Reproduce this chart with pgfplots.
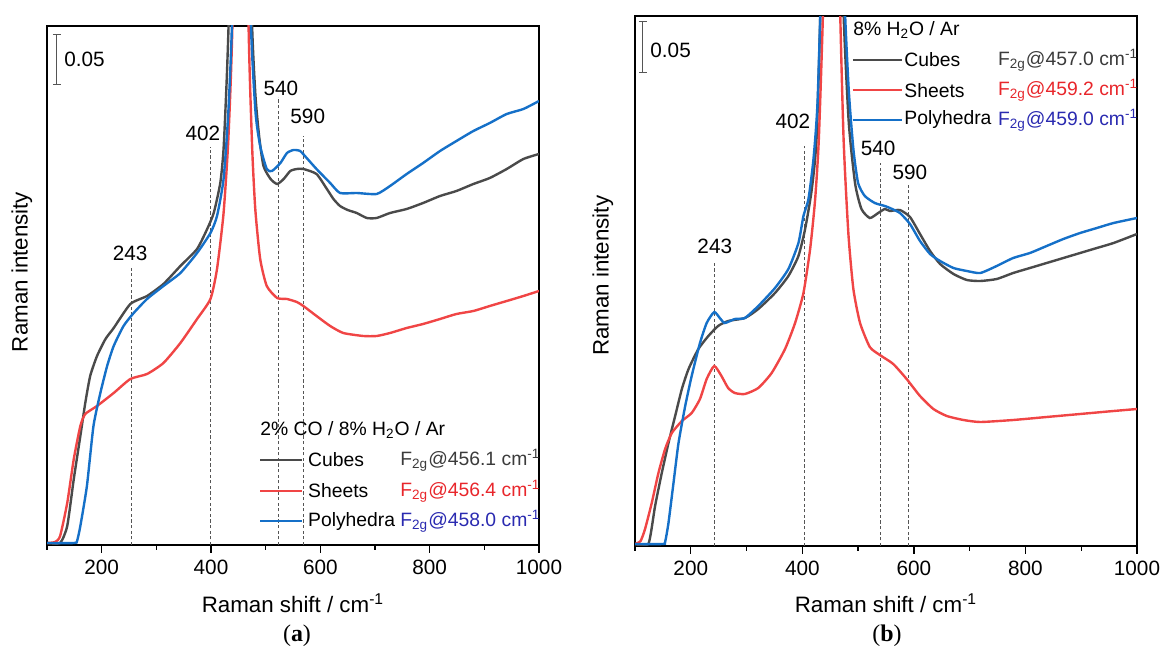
\documentclass[border=0pt]{standalone}
\usepackage{pgfplots}
\pgfplotsset{compat=1.18}
\usepackage{fontspec}
\setmainfont{Liberation Sans}
\newfontfamily\capfont{Liberation Serif}
\usetikzlibrary{arrows.meta}

\definecolor{cgray}{HTML}{4A4A4A}
\definecolor{cred}{HTML}{F04545}
\definecolor{cblue}{HTML}{1570C8}
\definecolor{tred}{HTML}{E8262B}
\definecolor{tblue}{HTML}{2A2AB0}
\definecolor{dashc}{HTML}{555555}

\newcommand{\tickfont}{\fontsize{10.4}{12}\selectfont}
\newcommand{\labfont}{\fontsize{11.2}{13}\selectfont}
\newcommand{\legfont}{\fontsize{9.7}{11.5}\selectfont}
\newcommand{\Fg}[1]{F\textsubscript{2g}@#1 cm\textsuperscript{-1}}

\tikzset{
  vdash/.style={dashc, line width=0.5bp, dash pattern=on 1.6bp off 1.2bp},
  pk/.style={font=\tickfont, inner sep=0pt},
}
\pgfplotsset{
  ramanax/.style={
    scale only axis,
    xmin=100, xmax=1000, ymin=0,
    xtick={200,400,...,1000},
    minor xtick={100,300,...,900},
    ytick=\empty,
    tick align=outside, tick pos=left,
    major tick length=4bp, minor tick length=2.5bp,
    every tick/.style={black, line width=0.7bp},
    axis line style={line width=0.9bp},
    ticklabel style={font=\tickfont},
    /pgf/number format/assume math mode=true,
    /pgf/number format/1000 sep={},
    xlabel={Raman shift / cm\textsuperscript{-1}},
    ylabel={Raman intensity},
    label style={font=\labfont},
    clip=true,
  },
  curve/.style={#1, line width=1.2bp, smooth, tension=0.35},
}

\begin{document}
\begin{tikzpicture}
\useasboundingbox (0,0) rectangle (581bp,326.5bp);

% ---------------- (a) ----------------
\begin{axis}[ramanax, at={(23.5bp,54bp)}, anchor=south west,
  width=246bp, height=259.5bp, ymax=519,
  xlabel style={at={(axis description cs:0.5,-0.112)}, anchor=center},
  ylabel style={at={(axis description cs:-0.051,0.526)}, anchor=center}]
\draw[vdash] (axis cs:254,0) -- (axis cs:254,277);
\draw[vdash] (axis cs:400,0) -- (axis cs:400,398);
\draw[vdash] (axis cs:524,0) -- (axis cs:524,448);
\draw[vdash] (axis cs:570,0) -- (axis cs:570,409);
\node[pk] at (axis cs:252,292) {243};
\node[pk] at (axis cs:385,412) {402};
\node[pk] at (axis cs:528,457) {540};
\node[pk] at (axis cs:577,429) {590};

\addplot[curve=cgray] coordinates {
(100,2) (124,2) (137,19) (149,66) (161,109) (170,142) (179,169) (191.5,189)
(207,206) (222,217) (252.5,241) (283,249) (313,261) (344,279) (374.5,296)
(393,316) (405,332) (417,362) (423,396) (429,469) (434,560) (445,900)
(456,1400) (466,900) (474,545) (481,452) (488,409) (496,379) (509,366)
(521,361) (533,366) (545,374) (557,376) (569,376) (593,371) (612,356)
(624,346) (636,339) (650,335) (666.5,332) (685,327) (703,327) (727.5,332) (758,336) (788,342)
(819,349) (849,354) (880,361) (910,367) (941,376) (971.5,386) (1000,391)
};
\addplot[curve=cred] coordinates {
(100,2) (115,3) (124,9) (137,42) (149,86) (161,119) (170,131) (191.5,139)
(222,152) (252.5,166) (283,171) (313,182) (344,202) (374.5,226) (399,246)
(411,276) (423,332) (432,409) (440,545) (448,1000) (456,1400) (462,1000)
(468,545) (475,402) (481,336) (490,286) (502,259) (521,247) (539,246)
(557,243) (569,239) (593,229) (618,219) (642,212) (678.6,209) (703,209)
(727.5,212) (758,217) (788,221) (819,226) (849,231) (880,234) (910,239)
(941,244) (971.5,249) (1000,254)
};
\addplot[curve=cblue] coordinates {
(100,2) (150,2) (155,4) (161,19) (173,59) (185,119) (197.6,152) (210,179)
(222,199) (240,219) (258.6,232) (283,246) (313,259) (344,272) (374.5,292)
(399,312) (411,329) (423,366) (432,436) (440,560) (448,1000) (456,1400)
(464,1000) (471,560) (481,436) (490,399) (502,376) (511.6,374) (527,382)
(539,392) (551,395) (563,394) (575,387) (593,376) (618,362) (636,352)
(666.5,352) (703,351) (727.5,359) (758,371) (788,382) (819,394) (849,404)
(880,414) (910,422) (941,431) (971.5,436) (1000,444)
};

% scale bar
\draw[dashc, line width=0.6bp, {Bar[width=4bp]}-{Bar[width=4bp]}]
  (axis cs:118,460) -- (axis cs:118,511);
\node[pk, anchor=west] at (axis cs:131,486) {0.05};

% legend
\node[anchor=west, inner sep=0pt, font=\legfont] at (rel axis cs:0.433,0.2216)
  {2\% CO / 8\% H\textsubscript{2}O / Ar};
\draw[cgray, line width=1.2bp] (rel axis cs:0.433,0.164) -- (rel axis cs:0.518,0.164);
\draw[cred, line width=1.2bp] (rel axis cs:0.433,0.104) -- (rel axis cs:0.518,0.104);
\draw[cblue, line width=1.2bp] (rel axis cs:0.433,0.046) -- (rel axis cs:0.518,0.046);
\node[anchor=west, inner sep=0pt, font=\legfont] at (rel axis cs:0.530,0.164) {Cubes};
\node[anchor=west, inner sep=0pt, font=\legfont] at (rel axis cs:0.530,0.104) {Sheets};
\node[anchor=west, inner sep=0pt, font=\legfont] at (rel axis cs:0.530,0.046) {Polyhedra};
\node[anchor=west, inner sep=0pt, font=\legfont, text=cgray!80!black] at (rel axis cs:0.7175,0.164) {\Fg{456.1}};
\node[anchor=west, inner sep=0pt, font=\legfont, text=tred] at (rel axis cs:0.7175,0.104) {\Fg{456.4}};
\node[anchor=west, inner sep=0pt, font=\legfont, text=tblue] at (rel axis cs:0.7175,0.046) {\Fg{458.0}};
\end{axis}

% ---------------- (b) ----------------
\begin{axis}[ramanax, at={(317.5bp,53.5bp)}, anchor=south west,
  width=251bp, height=265bp, ymax=530,
  xlabel style={at={(axis description cs:0.5,-0.1075)}, anchor=center},
  ylabel style={at={(axis description cs:-0.064,0.51)}, anchor=center}]
\draw[vdash] (axis cs:243,0) -- (axis cs:243,283);
\draw[vdash] (axis cs:403,0) -- (axis cs:403,400);
\draw[vdash] (axis cs:541,0) -- (axis cs:541,383);
\draw[vdash] (axis cs:591,0) -- (axis cs:591,361);
\node[pk] at (axis cs:243,300) {243};
\node[pk] at (axis cs:383,425) {402};
\node[pk] at (axis cs:536,398) {540};
\node[pk] at (axis cs:593,374) {590};

\addplot[curve=cgray] coordinates {
(100,2) (124,2) (136,40) (148,73) (160,103) (172,130) (184,157) (196,177)
(213.6,197) (231.5,210) (249,220) (267,225) (297,228) (321,237) (351,253)
(375,270) (393,290) (405,317) (417,357) (426,413) (435,600) (445,1000)
(457,1400) (467,1000) (471,590) (482.5,430) (494.5,363) (506,337) (521,328)
(536,333) (548,337) (557,335) (575,336) (593,329) (611,312) (629,295)
(647,282) (671,272) (695,266) (719,265) (748.5,267) (778,273) (808,278)
(838,283) (868,288) (898,293) (928,298) (958,303) (1000,312)
};
\addplot[curve=cred] coordinates {
(100,2) (110,5) (118,17) (130,43) (142,73) (154,97) (166,113) (184,125)
(201.6,133) (216.5,147) (228.5,167) (242,180) (255,170) (267,158) (279,153)
(297,152) (321,158) (345,173) (369,197) (387,223) (402,253) (414,297)
(423,347) (430,413) (440,600) (449,1000) (459,1400) (463,1000) (465,620)
(473.6,413) (482.5,313) (491.5,257) (503.5,223) (521,199) (539,191)
(563,182) (587,167) (611,150) (635,137) (659,130) (689,126) (719,124)
(778,126) (838,129) (898,132) (958,135) (1000,137)
};
\addplot[curve=cblue] coordinates {
(100,2) (150,2) (154,4) (160,23) (169,63) (178,103) (190,140) (201.6,170)
(216.5,203) (228.5,223) (242,234) (252,228) (261,223) (279,227) (297,228)
(321,240) (351,258) (375,277) (393,303) (402,330) (411,347) (420,387)
(427.5,447) (436,620) (446,1000) (457,1400) (468,1000) (473,600) (482.5,463)
(491.5,397) (500,363) (512,350) (530,343) (548,340) (557,338) (575,333)
(593,322) (611,305) (629,292) (647,285) (671,278) (695,275) (719,273)
(748.5,280) (778,288) (808,293) (838,300) (868,307) (898,313) (928,318)
(958,323) (1000,328)
};

% scale bar
\draw[dashc, line width=0.6bp, {Bar[width=4bp]}-{Bar[width=4bp]}]
  (axis cs:114,473) -- (axis cs:114,525);
\node[pk, anchor=west] at (axis cs:127,496) {0.05};

% legend
\node[anchor=west, inner sep=0pt, font=\legfont] at (rel axis cs:0.434,0.9736)
  {8\% H\textsubscript{2}O / Ar};
\draw[cgray, line width=1.2bp] (rel axis cs:0.434,0.917) -- (rel axis cs:0.532,0.917);
\draw[cred, line width=1.2bp] (rel axis cs:0.434,0.860) -- (rel axis cs:0.532,0.860);
\draw[cblue, line width=1.2bp] (rel axis cs:0.434,0.804) -- (rel axis cs:0.532,0.804);
\node[anchor=west, inner sep=0pt, font=\legfont] at (rel axis cs:0.536,0.917) {Cubes};
\node[anchor=west, inner sep=0pt, font=\legfont] at (rel axis cs:0.536,0.860) {Sheets};
\node[anchor=west, inner sep=0pt, font=\legfont] at (rel axis cs:0.536,0.804) {Polyhedra};
\node[anchor=west, inner sep=0pt, font=\legfont, text=cgray!80!black] at (rel axis cs:0.7225,0.917) {\Fg{457.0}};
\node[anchor=west, inner sep=0pt, font=\legfont, text=tred] at (rel axis cs:0.7225,0.860) {\Fg{459.2}};
\node[anchor=west, inner sep=0pt, font=\legfont, text=tblue] at (rel axis cs:0.7225,0.804) {\Fg{459.0}};
\end{axis}

\node[font=\capfont\fontsize{12}{14}\selectfont] at (148.5bp,8.5bp) {(\textbf{a})};
\node[font=\capfont\fontsize{12}{14}\selectfont] at (443.5bp,8.5bp) {(\textbf{b})};
\end{tikzpicture}
\end{document}
